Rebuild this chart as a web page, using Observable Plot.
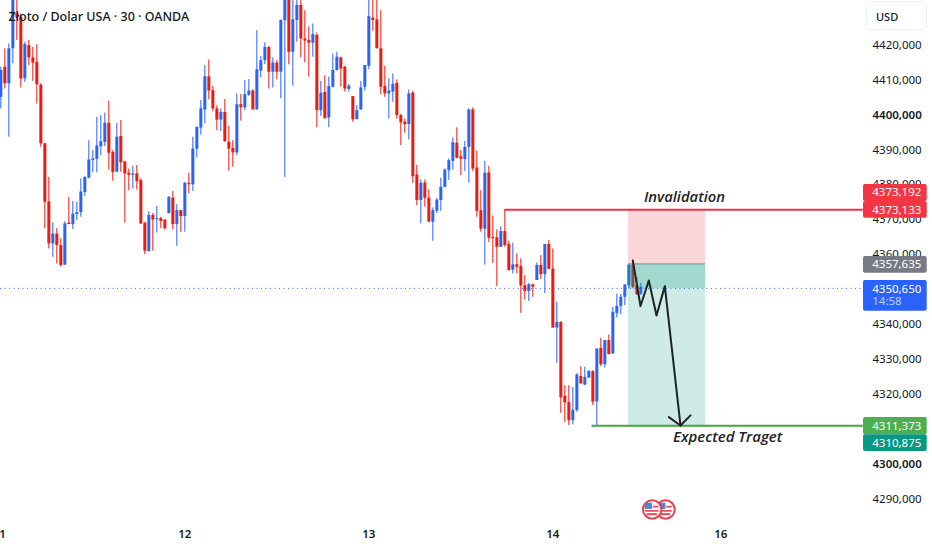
<!DOCTYPE html>
<html>
<head>
<meta charset="utf-8">
<script src="https://cdn.jsdelivr.net/npm/d3@7"></script>
<script src="https://cdn.jsdelivr.net/npm/@observablehq/plot@0.6"></script>
<style>
html,body{margin:0;padding:0;background:#fff;}
#chart{position:relative;width:932px;height:550px;overflow:hidden;}
#chart svg{display:block;}
#usd{position:absolute;left:866px;top:1px;width:61px;height:29px;box-sizing:border-box;border:1px solid #eef0f3;border-radius:5px;background:#fff;font:500 11px "Noto Sans",sans-serif;color:#131722;line-height:29px;padding-left:9px;}
</style>
</head>
<body>
<div id="chart"><div id="usd">USD</div></div>
<script>
const directions = [
"BRBBRRBRRR","RRRBRRBRBB","BBBBBBBRRB","RRRBRRRBRB","RRBRBRBRBB",
"BBRRRBRRRB","RBBRBBBRBR","BBRBBRRRBR","BRBBBRRBRB","BBBRRRRBBR",
"RRBRRBRRBB","BBBBRRBBRR","RBRRRBRRBR","RRBRBRBRRB","RRRBBRBBRB","RBRBBBBBRR","B"].join("");
const highs = [
4413.9,4419.2,4420.6,4435.9,4434.0,4429.2,4421.1,4421.6,4419.6,4420.4,
4409.2,4392.2,4382.4,4369.4,4367.8,4364.8,4369.7,4376.7,4375.5,4375.3,
4382.0,4382.6,4392.9,4390.1,4399.6,4400.1,4400.8,4404.2,4390.1,4397.9,
4398.7,4387.0,4384.8,4385.6,4385.8,4382.0,4369.6,4372.6,4372.1,4374.1,
4371.0,4370.2,4376.9,4378.4,4374.6,4372.9,4381.0,4383.6,4393.9,4396.9,
4404.4,4414.4,4416.0,4408.4,4402.9,4402.0,4404.7,4397.0,4392.9,4406.3,
4406.1,4410.1,4410.4,4407.5,4424.4,4417.0,4420.9,4419.8,4416.6,4415.8,
4427.5,4436.8,4436.8,4434.0,4434.0,4434.0,4430.1,4425.4,4426.3,4423.7,
4409.9,4411.5,4411.1,4417.7,4418.2,4416.8,4414.2,4409.0,4405.6,4402.9,
4409.8,4414.4,4434.9,4434.9,4434.0,4430.1,4414.2,4410.6,4412.0,4410.3,
4400.4,4399.1,4407.4,4407.1,4385.8,4381.7,4381.7,4378.8,4373.7,4376.4,
4382.2,4384.8,4387.7,4393.7,4396.6,4390.1,4392.7,4402.0,4402.3,4389.9,
4378.6,4387.0,4385.6,4371.3,4367.4,4368.3,4373.13,4364.1,4363.6,4360.5,
4359.1,4354.3,4352.1,4351.7,4357.9,4360.0,4363.2,4364.3,4361.9,4346.7,
4341.1,4322.8,4322.8,4322.3,4326.2,4328.2,4328.1,4327.1,4327.1,4333.3,
4336.4,4335.7,4337.3,4345.2,4349.0,4348.9,4351.7,4357.3,4358.6,4353.8,
4352.1];
const bodyTops = [
4413.0,4413.9,4419.2,4434.0,4429.2,4428.2,4420.4,4420.1,4416.6,4415.3,
4408.8,4392.0,4375.4,4366.2,4366.2,4362.9,4369.1,4369.3,4371.9,4372.3,
4378.2,4382.4,4387.4,4387.7,4391.4,4392.6,4397.9,4397.9,4389.5,4393.9,
4394.1,4386.8,4383.6,4383.4,4383.4,4381.5,4369.3,4371.5,4371.5,4370.6,
4370.6,4370.2,4376.7,4376.5,4372.9,4372.9,4380.7,4380.7,4390.5,4396.7,
4402.0,4411.2,4411.2,4407.2,4402.0,4401.0,4401.0,4392.5,4390.7,4403.2,
4403.2,4406.1,4407.1,4407.1,4413.2,4415.8,4419.6,4419.6,4415.1,4415.1,
4427.3,4434.9,4434.9,4427.5,4431.6,4431.6,4422.0,4421.6,4423.3,4423.0,
4406.5,4406.7,4408.4,4413.0,4416.8,4416.6,4413.9,4408.5,4405.5,4401.5,
4408.0,4414.4,4428.4,4428.0,4427.5,4419.2,4408.4,4407.1,4409.0,4409.3,
4400.1,4398.2,4406.3,4406.5,4383.1,4380.7,4380.8,4376.5,4372.9,4375.9,
4379.6,4384.5,4387.2,4392.3,4392.2,4388.3,4391.0,4401.7,4401.7,4385.1,
4372.9,4383.6,4383.7,4365.2,4365.1,4366.9,4366.9,4363.2,4357.4,4357.4,
4356.9,4351.4,4351.7,4351.7,4357.2,4357.2,4363.2,4363.2,4356.2,4340.9,
4340.9,4319.8,4318.0,4315.8,4325.9,4325.4,4325.2,4326.9,4326.8,4333.3,
4333.5,4335.7,4335.7,4343.8,4345.5,4348.1,4351.6,4357.3,4357.3,4351.4,
4351.0];
const bodyBottoms = [
4405.3,4409.2,4409.2,4419.2,4428.2,4410.6,4410.6,4416.6,4415.1,4408.9,
4392.0,4375.3,4363.4,4363.4,4362.9,4357.2,4357.3,4368.9,4368.9,4371.8,
4372.3,4378.1,4382.2,4387.2,4387.6,4391.2,4392.4,4389.3,4383.8,4383.9,
4386.6,4383.4,4383.0,4383.0,4381.2,4369.1,4361.3,4361.2,4370.2,4370.3,
4369.8,4367.7,4372.1,4368.9,4368.9,4371.2,4371.2,4380.3,4380.3,4390.5,
4396.5,4401.7,4407.1,4402.0,4398.8,4398.8,4392.6,4390.5,4389.4,4389.4,
4402.3,4402.3,4405.9,4401.7,4401.7,4412.8,4415.8,4412.5,4412.5,4412.5,
4412.5,4427.3,4418.2,4418.2,4427.3,4422.0,4421.4,4420.8,4420.8,4401.5,
4401.5,4399.2,4399.4,4408.2,4413.0,4413.4,4407.7,4407.6,4398.9,4399.0,
4401.7,4408.2,4414.2,4427.3,4419.2,4408.2,4406.3,4406.3,4406.8,4400.1,
4398.0,4397.5,4397.5,4382.6,4375.8,4375.8,4376.4,4369.6,4369.6,4372.7,
4375.8,4379.6,4384.3,4387.0,4387.9,4387.6,4387.5,4391.0,4384.8,4372.7,
4367.6,4367.6,4365.0,4364.9,4362.4,4362.4,4362.9,4355.7,4355.9,4356.7,
4351.4,4349.8,4349.8,4351.0,4352.9,4354.6,4354.6,4356.1,4339.3,4339.3,
4319.3,4317.9,4312.8,4312.8,4315.7,4323.3,4323.0,4325.0,4318.1,4318.2,
4328.8,4328.8,4331.7,4331.9,4343.5,4345.5,4348.1,4351.4,4351.0,4348.9,
4349.0];
const lows = [
4402.0,4407.7,4393.9,4414.9,4421.6,4408.0,4409.6,4414.4,4409.9,4403.4,
4391.0,4367.7,4361.9,4359.5,4357.6,4356.7,4357.2,4368.9,4367.5,4370.0,
4371.0,4377.0,4382.0,4383.7,4383.7,4388.6,4391.2,4384.5,4381.3,4383.8,
4383.9,4369.3,4378.6,4379.1,4378.8,4368.9,4360.3,4361.0,4361.3,4366.5,
4367.8,4367.4,4371.9,4367.4,4362.7,4366.7,4366.7,4377.7,4378.4,4388.0,
4394.5,4397.7,4404.6,4401.2,4395.8,4395.5,4392.5,4384.2,4385.3,4388.6,
4398.5,4401.5,4405.6,4401.7,4401.7,4410.9,4414.7,4407.7,4408.0,4410.3,
4404.9,4382.4,4414.6,4408.5,4421.1,4416.6,4415.2,4411.1,4416.8,4396.6,
4399.9,4399.1,4396.6,4408.0,4412.8,4408.2,4406.8,4406.8,4398.2,4398.8,
4401.7,4407.1,4413.2,4424.2,4419.2,4406.1,4405.3,4399.1,4403.9,4399.1,
4391.5,4395.0,4393.1,4380.7,4374.3,4369.1,4373.9,4369.6,4364.1,4372.1,
4372.7,4379.4,4381.5,4384.5,4387.7,4382.9,4384.1,4380.8,4384.1,4371.0,
4366.7,4357.3,4363.8,4357.8,4351.2,4362.4,4362.4,4355.7,4354.8,4354.8,
4343.5,4347.3,4346.9,4348.1,4352.9,4353.2,4349.2,4356.0,4339.3,4329.2,
4314.9,4312.3,4311.4,4311.6,4315.2,4323.3,4322.8,4324.9,4317.1,4311.4,
4328.3,4327.9,4331.7,4331.7,4342.2,4343.1,4345.7,4350.5,4350.5,4348.6,
4348.6];

const regularPriceTicks = [4420,4410,4390,4380,4370,4360,4340,4330,4320,4290];
const boldPriceTicks = [4400,4300];
const dayTicks = [0.4,46,92,138,180];
const dayLabels = ["1","12","13","14","16"];
const title = "Złoto / Dolar USA · 30 · OANDA";

const invalidation = 4373.133;
const target = 4311.373;
const entry = 4357.635;
const lastPrice = 4350.65;

const pathX = [158,159.92,162,163.92,166,169.92];
const pathY = [4358.6,4345.6,4352.9,4342.9,4351.3,4311.4];
const headX = [167,169.92,172.42];
const headY = [4313.8,4311.4,4314.3];

const tagNames = ["4373,192","4373,133","4357,635","4350,650","4311,373","4310,875"];
const tagColors = ["#f23645","#f23645","#787b86","#2962ff","#4caf50","#089981"];
const tagTops = [4380.37,4375.5,4359.77,4352.9,4313.7,4308.8];
const tagBottoms = [4375.5,4370.7,4355.0,4344.1,4308.8,4304.0];
const tagText = [4378.0,4373.1,4357.4,4350.5,4311.3,4306.4];

const flagDays = [166.17,162.84];
const flagPrice = 4287.4;

const candles = highs.map((h,i)=>({i,high:h,top:bodyTops[i],bottom:bodyBottoms[i],low:lows[i],dir:directions[i]}));
const tags = tagNames.map((name,i)=>({name,color:tagColors[i],top:tagTops[i],bottom:tagBottoms[i],text:tagText[i]}));
const path = pathX.map((x,i)=>({x,y:pathY[i]}));
const head = headX.map((x,i)=>({x,y:headY[i]}));
const ui = '"Noto Sans",sans-serif';
const note = '"Open Sans",sans-serif';
const candleColor = d=>d.dir;

const flagMarks = flagDays.flatMap(c=>[
  Plot.dot([c],{x:d=>d,y:()=>flagPrice,r:9.2,fill:"#fff",stroke:"#e8404f",strokeWidth:2}),
  Plot.rect([c],{x1:d=>d-1.7,x2:d=>d+0.1,y1:()=>flagPrice,y2:()=>flagPrice+1.8,fill:"#4f87d9"}),
  Plot.rect([c],{x1:d=>d-1.7,x2:d=>d+1.7,y1:()=>flagPrice-0.3,y2:()=>flagPrice-0.8,fill:"#e8505c"}),
  Plot.rect([c],{x1:d=>d-1.3,x2:d=>d+1.3,y1:()=>flagPrice-1.2,y2:()=>flagPrice-1.8,fill:"#e8505c"}),
  Plot.rect([c],{x1:d=>d+0.3,x2:d=>d+1.7,y1:()=>flagPrice+0.9,y2:()=>flagPrice+0.4,fill:"#e8505c"})
]);

const chart = Plot.plot({
  width:932,height:550,
  marginTop:0,marginLeft:0,marginRight:60,marginBottom:26,
  style:{background:"#fff",fontFamily:ui,overflow:"visible"},
  x:{domain:[-0.0825,217.9175],axis:null},
  y:{domain:[4283.09,4433.02],axis:null},
  color:{domain:["B","R"],range:["#2962ff","#f2180c"]},
  marks:[
    Plot.ruleY([lastPrice],{x1:()=>-0.0825,x2:()=>215.5,stroke:"#2962ff",strokeWidth:1,strokeDasharray:"1 3.5"}),
    Plot.ruleX(candles,{x:"i",y1:"low",y2:"high",stroke:candleColor,strokeWidth:1,clip:"frame"}),
    Plot.ruleX(candles,{x:"i",y1:"bottom",y2:"top",stroke:candleColor,strokeWidth:3,clip:"frame"}),
    Plot.rect([0],{x1:()=>156.9,x2:()=>176.2,y1:()=>entry,y2:()=>invalidation,fill:"#f23645",fillOpacity:0.2}),
    Plot.rect([0],{x1:()=>156.9,x2:()=>176.2,y1:()=>4310.875,y2:()=>entry,fill:"#089981",fillOpacity:0.2}),
    Plot.rect([0],{x1:()=>156.9,x2:()=>176.2,y1:()=>lastPrice,y2:()=>entry,fill:"#089981",fillOpacity:0.22}),
    Plot.ruleY([entry],{x1:()=>156.9,x2:()=>176.2,stroke:"#6f8f89",strokeWidth:1}),
    Plot.ruleY([invalidation],{x1:()=>126,x2:()=>215.6,stroke:"#ef2f45",strokeWidth:2}),
    Plot.ruleY([target],{x1:()=>147.8,x2:()=>215.6,stroke:"#43a83f",strokeWidth:2}),
    Plot.line(path,{x:"x",y:"y",stroke:"#1f2326",strokeWidth:2}),
    Plot.line(head,{x:"x",y:"y",stroke:"#1f2326",strokeWidth:2}),
    ...flagMarks,
    Plot.text(["Invalidation"],{x:()=>170.9,y:()=>4376.6,text:d=>d,fontFamily:note,fontStyle:"italic",fontWeight:600,fontSize:14.8,fill:"#1f2326"}),
    Plot.text(["Expected Traget"],{x:()=>181.7,y:()=>4308,text:d=>d,fontFamily:note,fontStyle:"italic",fontWeight:600,fontSize:15,fill:"#1f2326"}),
    Plot.axisY({anchor:"right",ticks:regularPriceTicks,tickSize:0,tickPadding:0,dy:-1,label:null,tickFormat:d=>d+",000",fontSize:11.5,fill:"#131722"}),
    Plot.axisY({anchor:"right",ticks:boldPriceTicks,tickSize:0,tickPadding:0,dy:-1,label:null,tickFormat:d=>d+",000",fontSize:11.5,fontWeight:600,fill:"#131722"}),
    Plot.axisX({anchor:"bottom",ticks:dayTicks,tickSize:0,tickPadding:5,label:null,tickFormat:d=>dayLabels[dayTicks.indexOf(d)],fontSize:11.5,fontWeight:600,fill:"#131722"}),
    Plot.rect(tags,{x1:()=>215.67,x2:()=>231.6,y1:"bottom",y2:"top",fill:"color",rx:2}),
    Plot.text(tags,{x:()=>217.85,y:"text",text:"name",textAnchor:"start",fill:"#fff",fontSize:11.5}),
    Plot.text(["14:58"],{x:()=>217.85,y:()=>4346.9,text:d=>d,textAnchor:"start",fill:"#bcd0ff",fontSize:11.5}),
    Plot.text([title],{frameAnchor:"top-left",dx:8,dy:12,text:d=>d,textAnchor:"start",fontFamily:ui,fontWeight:500,fontSize:12.5,fill:"#131722"})
  ]
});
document.getElementById("chart").prepend(chart);
</script>
</body>
</html>
